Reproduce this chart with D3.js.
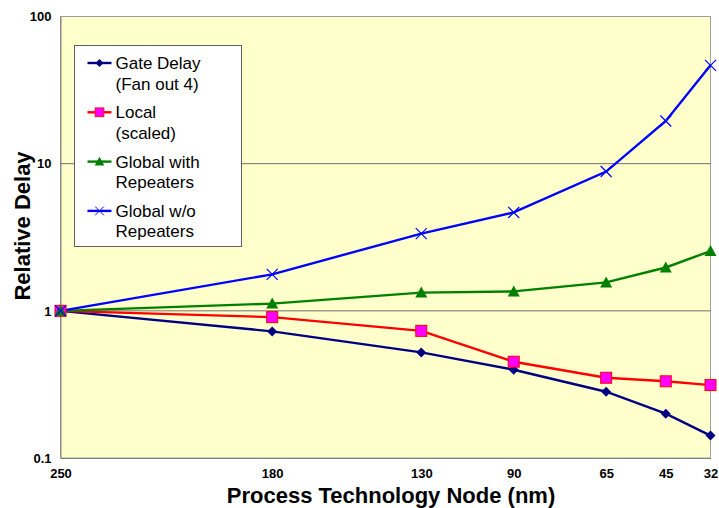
<!doctype html>
<html lang="en">
<head>
  <meta charset="utf-8">
  <title>Relative delay vs process technology node</title>
  <style>
    body { margin: 0; background: #fff; }
    svg { display: block; font-family: "Liberation Sans", Arial, sans-serif; }
    .tick text { font-weight: bold; font-size: 13px; fill: #000; }
    .legend text { font-size: 17px; fill: #000; }
  </style>
</head>
<body>
  <svg id="chart" width="719" height="508"></svg>
  <script src="https://d3js.org/d3.v7.min.js"></script>
  <script>
    // technology nodes, and where each node sits on the (uneven) x axis, in nm
    var nodeLabels = ["250", "180", "130", "90", "65", "45", "32"]
    var nodeX = [250, 179, 129, 98, 67, 47, 32]

    var gateDelay = [1, 0.725, 0.522, 0.398, 0.282, 0.2, 0.142]
    var localScaled = [1, 0.906, 0.731, 0.451, 0.351, 0.332, 0.313]
    var globalRep = [1, 1.12, 1.33, 1.355, 1.56, 1.97, 2.55]
    var globalNoRep = [1, 1.77, 3.35, 4.66, 8.84, 19.5, 46.6]

    var yTicks = [0.1, 1, 10, 100]

    var series = [
      {name: ["Gate Delay", "(Fan out 4)"], values: gateDelay, color: "#000080", marker: "diamond"},
      {name: ["Local", "(scaled)"], values: localScaled, color: "#ff0000", marker: "square"},
      {name: ["Global with", "Repeaters"], values: globalRep, color: "#008000", marker: "triangle"},
      {name: ["Global w/o", "Repeaters"], values: globalNoRep, color: "#0000ff", marker: "cross"}
    ]

    var svg = d3.select("#chart")
    var m = {left: 60.5, top: 16.5, right: 8.5, bottom: 50}
    var w = 719 - m.left - m.right
    var h = 508 - m.top - m.bottom

    var x = d3.scaleLinear().domain([250, 32]).range([0, w])
    var y = d3.scaleLog().domain([0.1, 100]).range([h, 0])

    var g = svg.append("g").attr("transform", "translate(" + m.left + "," + m.top + ")")

    g.append("rect").attr("width", w).attr("height", h)
      .attr("fill", "#ffffcc").attr("stroke", "#a0a0a0").attr("stroke-width", 1)

    // gridlines at 1 and 10
    g.selectAll(".grid").data([1, 10]).enter().append("line")
      .attr("x1", 0).attr("x2", w)
      .attr("y1", function(d) { return y(d) }).attr("y2", function(d) { return y(d) })
      .attr("stroke", "#707070").attr("stroke-width", 1)

    var yAxis = g.append("g")
      .call(d3.axisLeft(y).tickValues(yTicks).tickSize(0).tickPadding(9)
        .tickFormat(function(d) { return d3.format("")(d) }))
    yAxis.select(".domain").attr("stroke", "#808080")

    var xAxis = g.append("g").attr("transform", "translate(0," + h + ")")
      .call(d3.axisBottom(x).tickValues(nodeX).tickSize(0).tickPadding(11)
        .tickFormat(function(d, i) { return nodeLabels[i] }))
    xAxis.select(".domain").attr("stroke", "#808080")

    svg.append("text")
      .attr("transform", "translate(30,226) rotate(-90)")
      .attr("text-anchor", "middle")
      .style("font-size", "22px").style("font-weight", "bold")
      .text("Relative Delay")

    svg.append("text")
      .attr("x", 391).attr("y", 503)
      .attr("text-anchor", "middle")
      .style("font-size", "22px").style("font-weight", "bold")
      .text("Process Technology Node (nm)")

    var line = d3.line()
      .x(function(d, i) { return x(nodeX[i]) })
      .y(function(d) { return y(d) })

    function drawMarker(sel, s) {
      if (s.marker == "diamond") {
        sel.append("path").attr("d", "M0,-5L5,0L0,5L-5,0Z").attr("fill", s.color)
      } else if (s.marker == "square") {
        sel.append("rect").attr("x", -5.5).attr("y", -5.5).attr("width", 11).attr("height", 11)
          .attr("fill", "#ff00ff").attr("stroke", "#ff0000").attr("stroke-width", 1)
      } else if (s.marker == "triangle") {
        sel.append("path").attr("d", "M0,-6L6,5L-6,5Z").attr("fill", s.color)
      } else {
        sel.append("path").attr("d", "M-5.5,-5.5L5.5,5.5M-5.5,5.5L5.5,-5.5")
          .attr("stroke", s.color).attr("stroke-width", 1.2).attr("fill", "none")
      }
    }

    series.forEach(function(s) {
      g.append("path").datum(s.values)
        .attr("d", line).attr("fill", "none")
        .attr("stroke", s.color).attr("stroke-width", 2.4)
    })
    series.forEach(function(s) {
      g.selectAll(null).data(s.values).enter().append("g")
        .attr("transform", function(d, i) { return "translate(" + x(nodeX[i]) + "," + y(d) + ")" })
        .each(function() { drawMarker(d3.select(this), s) })
    })

    // legend
    var lg = svg.append("g").attr("class", "legend").attr("transform", "translate(74.5,45.5)")
    lg.append("rect").attr("width", 167).attr("height", 201)
      .attr("fill", "#fff").attr("stroke", "#606060").attr("stroke-width", 1)
    series.forEach(function(s, i) {
      var e = lg.append("g").attr("transform", "translate(0," + (17.5 + i * 49.3) + ")")
      e.append("line").attr("x1", 13).attr("x2", 37).attr("y1", 0).attr("y2", 0)
        .attr("stroke", s.color).attr("stroke-width", 2.4)
      var mk = e.append("g").attr("transform", "translate(25,0) scale(0.8)")
      drawMarker(mk, s)
      e.selectAll("text").data(s.name).enter().append("text")
        .attr("x", 41).attr("y", function(d, j) { return 6 + j * 20.5 })
        .text(function(d) { return d })
    })
  </script>
</body>
</html>
